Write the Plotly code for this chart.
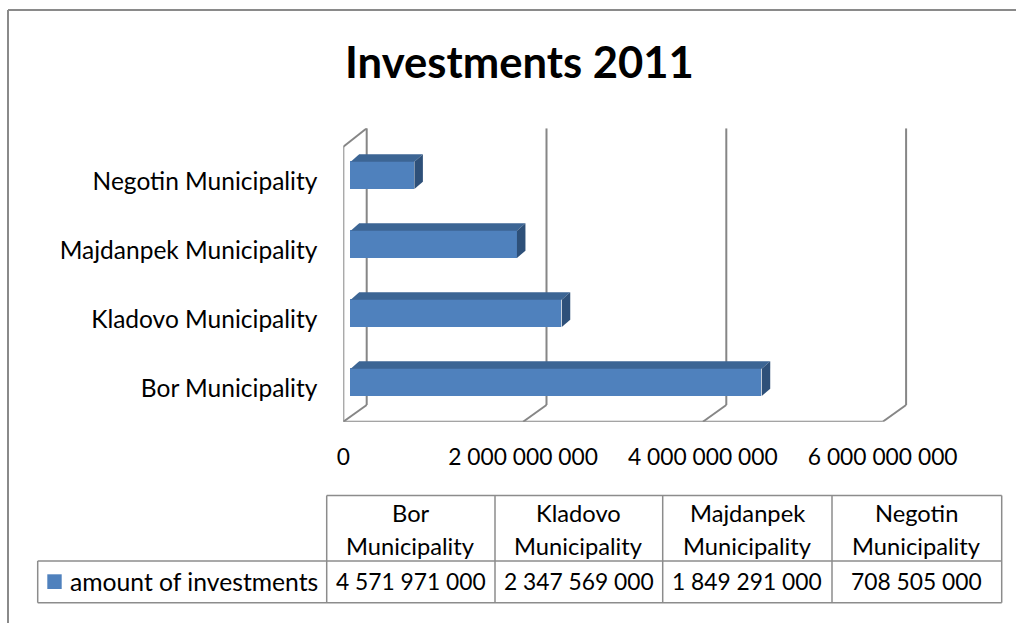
import plotly.graph_objects as go

# ---- data -------------------------------------------------------------
categories = ["Bor Municipality", "Kladovo Municipality",
              "Majdanpek Municipality", "Negotin Municipality"]
investments = [4571971000, 2347569000, 1849291000, 708505000]
series_name = "amount of investments"
title_text = "Investments 2011"
x_ticks = [0, 2000000000, 4000000000, 6000000000]

# ---- geometry (pixels) -------------------------------------------------
W, H = 1016, 623
FONT = "Lato"
CAT_SIZE = 24.5
TICK_SIZE = 22.8
NUM_SIZE = 22.8
HEAD_SIZE = 23.7
SERIES_SIZE = 24.7
TITLE_SIZE = 43.6
BLUE = "#4F81BD"
TOP_BLUE = "#3C6594"
SIDE_BLUE = "#2E5079"
GRID = "#868686"

X0_PX = 343.3            # front-plane zero of the value axis
PX_PER_UNIT = 89.9 / 1e9
Y0_PX = 388.5            # front-plane centre of the first category
PX_PER_CAT = 69.0
X_MAX = 6.4e9
FLOOR_PX = 421.7
TOP_PX = 128.3

def dx(px):
    return px / PX_PER_UNIT

def dy(px):
    return px / PX_PER_CAT

y_lo = (Y0_PX - FLOOR_PX) / PX_PER_CAT
y_hi = (Y0_PX - TOP_PX) / PX_PER_CAT

# wall depth
WALL_DX, WALL_DY = 23.4, 16.7
FRONT_TOP_PX = 146.7
# bar placement inside the depth and bar thickness
BAR_DX, BAR_DY = 7.4, 6.2
FACE_DX, FACE_DY = 8.5, 7.3
BAR_H = 27.3 / PX_PER_CAT

fig = go.Figure()

# ---- walls and gridlines ----------------------------------------------
shapes = []
def seg(x0, y0, x1, y1):
    shapes.append(dict(type="line", xref="x", yref="y", x0=x0, y0=y0,
                       x1=x1, y1=y1, layer="below",
                       line=dict(color=GRID, width=2)))

back_floor = y_lo + dy(WALL_DY)
for t in x_ticks:
    seg(t + dx(WALL_DX), back_floor, t + dx(WALL_DX), y_hi)
    seg(t, y_lo, t + dx(WALL_DX), back_floor)
seg(x_ticks[0], y_lo, x_ticks[-1], y_lo)
front_top = (Y0_PX - FRONT_TOP_PX) / PX_PER_CAT
seg(0, y_lo, 0, front_top)
seg(0, front_top, dx(WALL_DX), y_hi)

# ---- 3D bars ------------------------------------------------------------
ypos = list(range(len(categories)))
bar_y = [i + dy(BAR_DY) for i in ypos]
fig.add_trace(go.Bar(
    orientation="h", y=bar_y, x=investments, base=dx(BAR_DX),
    width=BAR_H, marker=dict(color=BLUE, line=dict(width=0)),
    hoverinfo="skip", showlegend=False))

for yc, v in zip(bar_y, investments):
    x0 = dx(BAR_DX)
    x1 = x0 + v
    yt = yc + BAR_H / 2
    yb = yc - BAR_H / 2
    fx, fy = dx(FACE_DX), dy(FACE_DY)
    fig.add_trace(go.Scatter(
        x=[x0, x1, x1 + fx, x0 + fx, x0], y=[yt, yt, yt + fy, yt + fy, yt],
        fill="toself", fillcolor=TOP_BLUE, mode="lines",
        line=dict(width=0, color=TOP_BLUE), hoverinfo="skip",
        showlegend=False))
    fig.add_trace(go.Scatter(
        x=[x1, x1 + fx, x1 + fx, x1, x1], y=[yb, yb + fy, yt + fy, yt, yb],
        fill="toself", fillcolor=SIDE_BLUE, mode="lines",
        line=dict(width=0, color=SIDE_BLUE), hoverinfo="skip",
        showlegend=False))

# ---- data table ---------------------------------------------------------
def px_x(p):
    return p / W

def px_y(p):
    return 1 - p / H

def fmt(v):
    return f"{v:,}".replace(",", " ")

col_edges = [326.7, 495.0, 662.7, 832.0, 1001.7]
row_top, row_mid, row_bot = 495.5, 561.0, 602.7
legend_left = 37.7
TB = "#8c8c8c"

def pline(x0, y0, x1, y1):
    shapes.append(dict(type="line", xref="paper", yref="paper",
                       x0=px_x(x0), y0=px_y(y0), x1=px_x(x1), y1=px_y(y1),
                       line=dict(color=TB, width=1.5)))

pline(col_edges[0], row_top, col_edges[-1], row_top)
pline(legend_left, row_mid, col_edges[-1], row_mid)
pline(legend_left, row_bot, col_edges[-1], row_bot)
pline(legend_left, row_mid, legend_left, row_bot)
for e in col_edges:
    pline(e, row_top, e, row_bot)

# legend key
shapes.append(dict(type="rect", xref="paper", yref="paper",
                   x0=px_x(47.3), x1=px_x(61.7), y0=px_y(589.0), y1=px_y(574.3),
                   fillcolor=BLUE, line=dict(width=0)))

# outer chart border
shapes.append(dict(type="line", xref="paper", yref="paper",
                   x0=px_x(8), y0=px_y(10), x1=1, y1=px_y(10),
                   line=dict(color="#8a8a8a", width=2)))
shapes.append(dict(type="line", xref="paper", yref="paper",
                   x0=px_x(8), y0=px_y(10), x1=px_x(8), y1=0,
                   line=dict(color="#8a8a8a", width=2)))

annotations = []
def label(text, xp, yp, size, anchor="center", bold=False):
    annotations.append(dict(
        text=f"<b>{text}</b>" if bold else text, xref="paper", yref="paper",
        x=px_x(xp), y=px_y(yp), xanchor=anchor, yanchor="middle",
        showarrow=False, font=dict(family=FONT, size=size, color="black")))

for i, (name, v) in enumerate(zip(categories, investments)):
    cx = (col_edges[i] + col_edges[i + 1]) / 2
    first, second = name.split(" ")
    label(first, cx, 512.5, HEAD_SIZE)
    label(second, cx, 546.0, HEAD_SIZE)
    label(fmt(v), cx, 581.0, NUM_SIZE)
label(series_name, 67.5, 581.0, SERIES_SIZE, anchor="left")

label(title_text, 519.5, 61.5, TITLE_SIZE, bold=True)

fig.update_layout(
    width=W, height=H, autosize=False, margin=dict(l=0, r=0, t=0, b=0),
    paper_bgcolor="white", plot_bgcolor="rgba(0,0,0,0)",
    barmode="overlay", bargap=0,
    shapes=shapes, annotations=annotations,
    xaxis=dict(
        domain=[px_x(X0_PX), px_x(X0_PX + X_MAX * PX_PER_UNIT)],
        range=[0, X_MAX], showgrid=False, zeroline=False, showline=False,
        automargin=False,
        tickvals=x_ticks, ticktext=[fmt(t) for t in x_ticks],
        ticks="outside", ticklen=15, tickcolor="rgba(0,0,0,0)",
        tickfont=dict(family=FONT, size=TICK_SIZE, color="black")),
    yaxis=dict(
        domain=[px_y(FLOOR_PX), px_y(TOP_PX)],
        range=[y_lo, y_hi], showgrid=False, zeroline=False, showline=False,
        automargin=False,
        tickvals=ypos, ticktext=categories,
        ticks="outside", ticklen=20, tickcolor="rgba(0,0,0,0)",
        tickfont=dict(family=FONT, size=CAT_SIZE, color="black")),
)

fig.write_html("out.html")
